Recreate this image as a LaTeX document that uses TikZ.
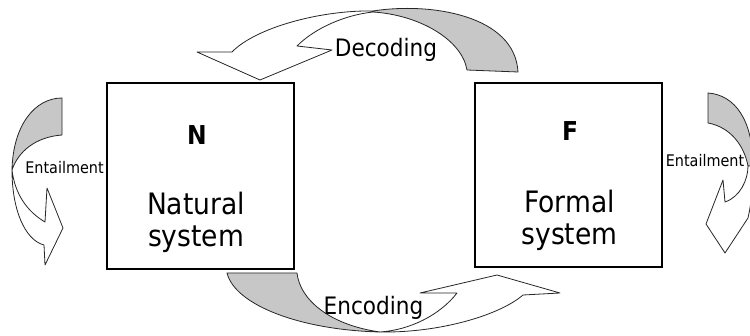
\documentclass[tikz,border=0pt]{standalone}
\usepackage{fontspec}
\setmainfont{DejaVu Sans}[FakeStretch=0.9]
\begin{document}
\begin{tikzpicture}[x=1pt,y=-1pt,
  sysbox/.style={draw=black, line width=2pt, fill=white, inner sep=0pt},
  band/.style={draw=black!85, line width=0.8pt, line join=round},
  graypart/.style={band, fill=black!22},
  whitepart/.style={band, fill=white},
  biglbl/.style={font=\fontsize{29.5}{32}\selectfont, anchor=base, inner sep=0pt},
  letterlbl/.style={font=\fontsize{26}{28}\bfseries\selectfont, anchor=base, inner sep=0pt},
  arrowlbl/.style={font=\fontsize{24}{26}\selectfont, anchor=base, inner sep=0pt},
  entlbl/.style={font=\fontsize{16}{18}\selectfont, anchor=base, inner sep=0pt}]
\useasboundingbox (0,0) rectangle (750,336);

% boxes
\node[sysbox, minimum width=187pt, minimum height=186pt] (N) at (200.5,176) {};
\node[sysbox, minimum width=187pt, minimum height=184pt] (F) at (568.5,175) {};

\node[letterlbl] (Nl) at (197,145) {N};
\node[biglbl] (Nt1) at (196,215) {Natural};
\node[biglbl] (Nt2) at (196,247) {system};
\node[letterlbl] (Fl) at (570,141) {F};
\node[biglbl] (Ft1) at (569.5,213) {Formal};
\node[biglbl] (Ft2) at (569.5,245) {system};

% Decoding arrow (top)
\draw[graypart] (373,11) .. controls (430,2) and (515,15) .. (518,72)
  -- (467,70) .. controls (462,40) and (420,15) .. (373,12) -- cycle;
\draw[whitepart] (373,11) .. controls (320,10) and (255,28) .. (232,52)
  -- (197,52) -- (260,80) -- (332,50) -- (297,46)
  .. controls (315,28) and (345,15) .. (373,12) -- cycle;
\node[arrowlbl] (dec) at (386,57) {Decoding};

% Encoding arrow (bottom)
\draw[graypart] (227,273) -- (297,273) .. controls (300,300) and (330,325) .. (380,332)
  .. controls (300,330) and (235,305) .. (227,273) -- cycle;
\draw[whitepart] (380,332) .. controls (440,333) and (500,315) .. (523,295)
  -- (560,293) -- (497,275) -- (420,293) -- (457,293)
  .. controls (440,315) and (410,330) .. (380,332) -- cycle;
\node[arrowlbl] (enc) at (373.5,315) {Encoding};

% Entailment left
\draw[graypart] (62,98) .. controls (35,98) and (13,125) .. (12,170)
  .. controls (18,152) and (35,137) .. (62,135) -- cycle;
\draw[whitepart] (12,170) .. controls (12,210) and (25,240) .. (44,245)
  -- (45,265) -- (63,228) -- (47,188) -- (45,222)
  .. controls (28,212) and (15,195) .. (12,170) -- cycle;
\node[entlbl] (entL) at (64.5,174) {Entailment};

% Entailment right
\draw[graypart] (708,93) .. controls (735,95) and (753,120) .. (753,166)
  -- (748,166) .. controls (744,145) and (730,127) .. (708,123) -- cycle;
\draw[whitepart] (748,166) .. controls (748,180) and (740,197) .. (725,202)
  -- (723,180) -- (706,224) -- (725,253) -- (748,218)
  .. controls (752,200) and (753,185) .. (753,166) -- cycle;
\node[entlbl] (entR) at (705,167) {Entailment};
\end{tikzpicture}
\end{document}
